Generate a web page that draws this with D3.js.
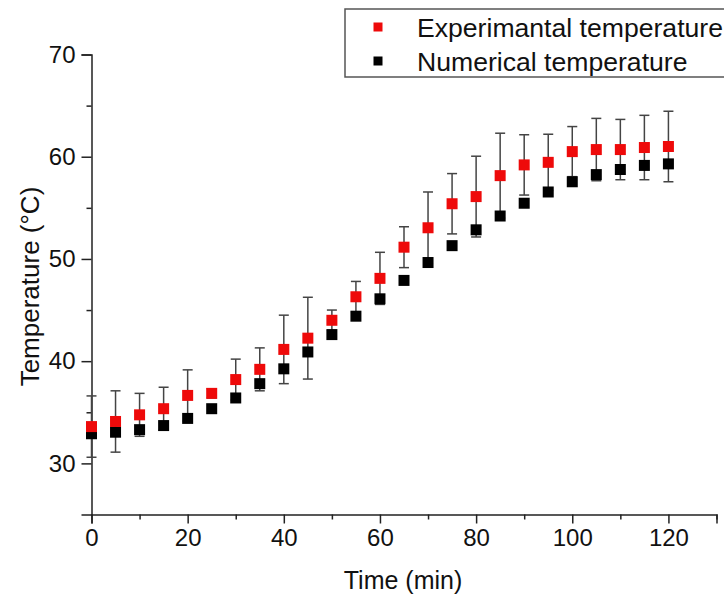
<!DOCTYPE html>
<html>
<head>
<meta charset="utf-8">
<script src="https://cdn.jsdelivr.net/npm/d3@7"></script>
<style>
  html, body { margin: 0; padding: 0; background: #fff; }
  svg { display: block; font-family: "Liberation Sans", Arial, sans-serif; }
</style>
</head>
<body>
<svg id="chart" width="724" height="598"></svg>
<script>
// ---- data ----
const time = [0,5,10,15,20,25,30,35,40,45,50,55,60,65,70,75,80,85,90,95,100,105,110,115,120];
const experimental = [33.6,34.1,34.75,35.35,36.65,36.85,38.2,39.2,41.15,42.25,44.0,46.3,48.1,51.15,53.05,55.4,56.1,58.15,59.2,59.45,60.5,60.7,60.7,60.9,61.0];
const experimentalError = [3.0,3.0,2.1,2.1,2.5,0.45,2.0,2.1,3.35,4.0,1.0,1.5,2.55,2.0,3.5,2.95,3.95,4.15,2.95,2.75,2.45,3.05,2.95,3.15,3.45];
const numerical = [32.9,33.05,33.3,33.7,34.4,35.35,36.4,37.8,39.25,40.9,42.6,44.4,46.1,47.9,49.65,51.3,52.85,54.2,55.45,56.55,57.55,58.25,58.75,59.15,59.3];
const xTicks = [0,20,40,60,80,100,120];
const xMinorTicks = [10,30,50,70,90,110,130];
const yTicks = [30,40,50,60,70];
const yMinorTicks = [35,45,55,65];
const seriesNames = ["Experimantal temperature", "Numerical temperature"];
const seriesColors = ["#ee0a0a", "#000000"];

// ---- layout ----
const svg = d3.select("#chart");
const x = d3.scaleLinear().domain([0, 130]).range([91.5, 716.5]);
const y = d3.scaleLinear().domain([25, 70]).range([514.5, 54.5]);
const axisColor = "#222";

// x axis
const gx = svg.append("g").attr("transform", `translate(0,${y(25)})`);
gx.call(d3.axisBottom(x).tickValues(xTicks).tickSize(9).tickPadding(5).tickFormat(d3.format("d")));
gx.append("g").call(d3.axisBottom(x).tickValues(xMinorTicks).tickSize(5).tickFormat(""))
  .select(".domain").remove();
gx.selectAll(".domain").attr("stroke", axisColor).attr("stroke-width", 1.5);
gx.selectAll(".tick line").attr("stroke", axisColor).attr("stroke-width", 1.5);
gx.selectAll(".tick text").attr("font-size", 24).attr("fill", "#111")
  .attr("font-family", "Liberation Sans, Arial, sans-serif");

// y axis
const gy = svg.append("g").attr("transform", `translate(${x(0)},0)`);
gy.call(d3.axisLeft(y).tickValues(yTicks).tickSize(10).tickPadding(6).tickFormat(d3.format("d")));
gy.append("g").call(d3.axisLeft(y).tickValues(yMinorTicks).tickSize(5).tickFormat(""))
  .select(".domain").remove();
gy.selectAll(".domain").attr("stroke", axisColor).attr("stroke-width", 1.5);
gy.selectAll(".tick line").attr("stroke", axisColor).attr("stroke-width", 1.5);
gy.selectAll(".tick text").attr("font-size", 24).attr("fill", "#111")
  .attr("font-family", "Liberation Sans, Arial, sans-serif");

// axis titles
svg.append("text").attr("x", 403).attr("y", 589).attr("text-anchor", "middle")
  .attr("font-size", 25).attr("fill", "#111").text("Time (min)");
svg.append("text").attr("transform", `translate(39,${y(47.3)}) rotate(-90)`)
  .attr("text-anchor", "middle").attr("font-size", 26).attr("fill", "#111").text("Temperature (°C)");

// error bars (experimental)
const data = time.map((t, i) => ({t, e: experimental[i], err: experimentalError[i], n: numerical[i]}));
const eb = svg.append("g").attr("stroke", "#444").attr("stroke-width", 1.5);
eb.selectAll("line.v").data(data).join("line").attr("class", "v")
  .attr("x1", d => x(d.t)).attr("x2", d => x(d.t))
  .attr("y1", d => y(d.e - d.err)).attr("y2", d => y(d.e + d.err));
eb.selectAll("line.top").data(data).join("line").attr("class", "top")
  .attr("x1", d => x(d.t) - 5).attr("x2", d => x(d.t) + 5)
  .attr("y1", d => y(d.e + d.err)).attr("y2", d => y(d.e + d.err));
eb.selectAll("line.bot").data(data).join("line").attr("class", "bot")
  .attr("x1", d => x(d.t) - 5).attr("x2", d => x(d.t) + 5)
  .attr("y1", d => y(d.e - d.err)).attr("y2", d => y(d.e - d.err));

const ms = 11;
svg.append("g").selectAll("rect").data(data).join("rect")
  .attr("x", d => x(d.t) - ms / 2).attr("y", d => y(d.n) - ms / 2)
  .attr("width", ms).attr("height", ms).attr("fill", seriesColors[1]);
svg.append("g").selectAll("rect").data(data).join("rect")
  .attr("x", d => x(d.t) - ms / 2).attr("y", d => y(d.e) - ms / 2)
  .attr("width", ms).attr("height", ms).attr("fill", seriesColors[0]);

// legend
const lg = svg.append("g");
lg.append("rect").attr("x", 345).attr("y", 9).attr("width", 420).attr("height", 68)
  .attr("fill", "#fff").attr("stroke", "#555").attr("stroke-width", 1.5);
seriesNames.forEach((name, i) => {
  const cy = 27 + i * 34;
  lg.append("rect").attr("x", 378 - 4.5).attr("y", cy - 4.5).attr("width", 9).attr("height", 9)
    .attr("fill", seriesColors[i]);
  lg.append("text").attr("x", 417).attr("y", cy + 9.5).attr("font-size", 26.6).attr("fill", "#111").text(name);
});
</script>
</body>
</html>
